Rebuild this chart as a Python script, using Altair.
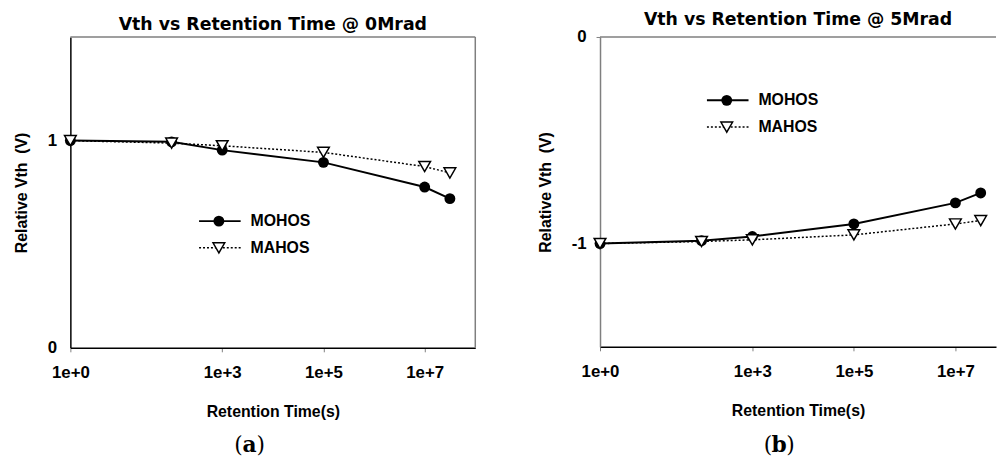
import altair as alt
import pandas as pd

# ---- data ----
times = [1, 100, 1000, 1e5, 1e7, 3.15e7]
a_mohos = [1.0, 0.994, 0.954, 0.895, 0.776, 0.720]
a_mahos = [1.0, 0.988, 0.975, 0.943, 0.875, 0.844]
b_mohos = [-1.0, -0.986, -0.966, -0.905, -0.803, -0.755]
b_mahos = [-1.0, -0.990, -0.982, -0.958, -0.905, -0.889]
series_names = ["MOHOS", "MAHOS"]
x_ticks = [1, 1000, 1e5, 1e7]
titles = ["Vth vs Retention Time @ 0Mrad", "Vth vs Retention Time @ 5Mrad"]
captions = ["a", "b"]
x_title = "Retention Time(s)"
y_title = "Relative Vth\u00a0 (V)"

NARROW = "Liberation Sans, Arial, sans-serif"
HEAVY = "DejaVu Sans, Arial Black, sans-serif"
SERIF = "DejaVu Serif, Palatino, serif"
GRAY = "#7f7f7f"


def panel(mohos, mahos, ydomain, yticks, title, cap, width, height, xmax,
          left_domain_color, has_right, legend_xy, title_offset, ytick_size):
    df = pd.DataFrame({
        "t": times * 2,
        "v": mohos + mahos,
        "s": [series_names[0]] * len(times) + [series_names[1]] * len(times),
    })
    xs = alt.Scale(type="log", domain=[1, xmax])
    ys = alt.Scale(domain=ydomain)
    xaxis = alt.Axis(values=x_ticks, format=".0e", grid=False, title=x_title,
                     labelFont=NARROW, labelFontSize=17, labelFontWeight="bold",
                     labelColor="black", tickColor=GRAY, tickSize=4, tickWidth=1,
                     domainColor="black", domainWidth=1.5, labelPadding=13,
                     titleFont=NARROW, titleFontSize=16, titleFontWeight="bold",
                     titleColor="black", titlePadding=23, labelFlush=False)
    yaxis = alt.Axis(values=yticks, labelExpr="'' + datum.value", grid=False, title=y_title,
                     labelFont=NARROW, labelFontSize=17, labelFontWeight="bold",
                     labelColor="black", tickColor=GRAY, tickSize=ytick_size, tickWidth=1,
                     ticks=ytick_size > 0,
                     domainColor=left_domain_color, domainWidth=1.5,
                     labelPadding=10 if ytick_size > 0 else 14,
                     titleFont=NARROW, titleFontSize=16, titleFontWeight="bold",
                     titleColor="black", titlePadding=18)
    base = alt.Chart(df).encode(
        x=alt.X("t:Q", scale=xs, axis=xaxis),
        y=alt.Y("v:Q", scale=ys, axis=yaxis),
    )
    l1 = base.transform_filter(alt.datum.s == series_names[0]).mark_line(
        color="black", strokeWidth=2)
    l2 = base.transform_filter(alt.datum.s == series_names[1]).mark_line(
        color="black", strokeWidth=1.5, strokeDash=[2, 2])
    p1 = base.transform_filter(alt.datum.s == series_names[0]).mark_point(
        shape="circle", filled=True, color="black", size=121, opacity=1)
    p2 = base.transform_filter(alt.datum.s == series_names[1]).mark_point(
        shape="triangle-down", filled=True, fill="white", stroke="black",
        strokeWidth=1.5, size=140, opacity=1)

    one = alt.Data(values=[{}])
    frame = [
        alt.Chart(one).mark_rule(color=GRAY, strokeWidth=1.5).encode(
            x=alt.value(0), x2=alt.value(width), y=alt.value(0)),
    ]
    if has_right:
        frame.append(alt.Chart(one).mark_rule(color=GRAY, strokeWidth=1.5).encode(
            x=alt.value(width), y=alt.value(0), y2=alt.value(height)))

    lx, ly = legend_xy
    leg = []
    for i, name in enumerate(series_names):
        yy = ly + i * 27
        if i == 0:
            leg.append(alt.Chart(one).mark_rule(color="black", strokeWidth=2).encode(
                x=alt.value(lx), x2=alt.value(lx + 42), y=alt.value(yy)))
            leg.append(alt.Chart(one).mark_point(shape="circle", filled=True, color="black",
                                                 size=121, opacity=1).encode(
                x=alt.value(lx + 20), y=alt.value(yy)))
        else:
            leg.append(alt.Chart(one).mark_rule(color="black", strokeWidth=1.5,
                                                strokeDash=[2, 2]).encode(
                x=alt.value(lx), x2=alt.value(lx + 42), y=alt.value(yy)))
            leg.append(alt.Chart(one).mark_point(shape="triangle-down", filled=True,
                                                 fill="white", stroke="black",
                                                 strokeWidth=1.5, size=140, opacity=1).encode(
                x=alt.value(lx + 20), y=alt.value(yy)))
        leg.append(alt.Chart(one).mark_text(align="left", baseline="middle", font=NARROW,
                                            fontSize=16, fontWeight="bold",
                                            color="black").encode(
            x=alt.value(lx + 52), y=alt.value(yy), text=alt.value(name)))

    cx, cy = 181, 412
    capm = [
        alt.Chart(one).mark_text(align="right", baseline="middle", font=SERIF, fontSize=22,
                                 color="black").encode(
            x=alt.value(cx - 7), y=alt.value(cy), text=alt.value("(")),
        alt.Chart(one).mark_text(align="center", baseline="middle", font=SERIF, fontSize=22,
                                 fontWeight="bold", color="black").encode(
            x=alt.value(cx), y=alt.value(cy), text=alt.value(cap)),
        alt.Chart(one).mark_text(align="left", baseline="middle", font=SERIF, fontSize=22,
                                 color="black").encode(
            x=alt.value(cx + 7), y=alt.value(cy), text=alt.value(")")),
    ]

    return alt.layer(*frame, l2, l1, p1, p2, *leg, *capm).properties(
        width=width, height=height,
        title=alt.Title(title, font=HEAVY, fontSize=17.5, fontWeight="bold", color="black",
                        offset=title_offset, anchor="middle"),
    )


left = panel(a_mohos, a_mahos, [0, 1.5], [0, 1], titles[0], captions[0],
             409, 314, 1e8, "black", True, (130, 186), 3, 0)
right = panel(b_mohos, b_mahos, [-1.5, 0], [-1, 0], titles[1], captions[1],
              400, 313, 10 ** 7.8, GRAY, False, (108, 64), 0, 4)

chart = alt.hconcat(left, right, spacing=126, bounds="flush").properties(
    padding={"left": 5, "top": 0, "right": 0, "bottom": 0}
).configure_view(stroke="transparent")

chart.save("out.html", embed_options={"renderer": "svg", "actions": False})
